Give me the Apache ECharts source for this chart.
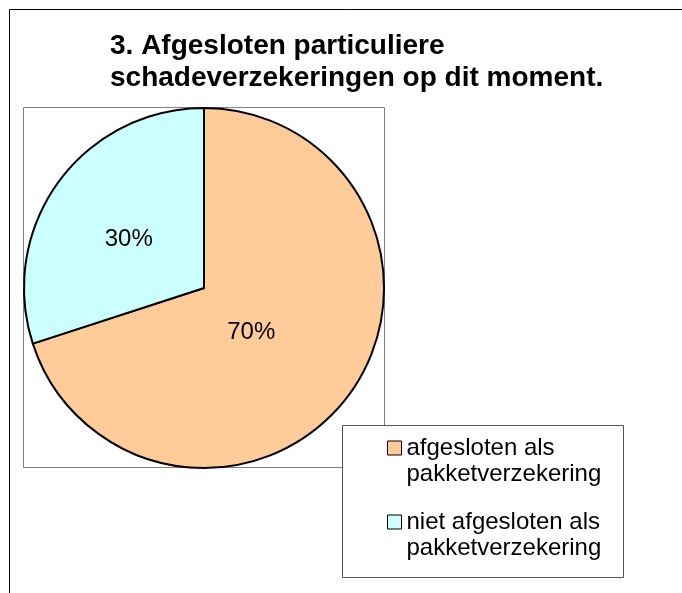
<!DOCTYPE html>
<html>
<head>
<meta charset="utf-8">
<script src="https://cdn.jsdelivr.net/npm/echarts@6/dist/echarts.min.js"></script>
<style>
    html, body { margin: 0; padding: 0; background: #fff; }
    #main { width: 682px; height: 593px; }
</style>
</head>
<body>
<div id="main"></div>
<script>
var titleText = '3. Afgesloten particuliere\nschadeverzekeringen op dit moment.';
var categories = ['afgesloten als\npakketverzekering', 'niet afgesloten als\npakketverzekering'];
var values = [70, 30];
var colors = ['#FFCC99', '#CCFFFF'];

var myChart = echarts.init(document.getElementById('main'));

// per-slice label templates (nudged toward the spot Excel uses)
var labelFormats = ['{v|{d}%}\n{g70|}', '{g30|}\n{v|{d}%}'];

var option = {
    backgroundColor: '#fff',
    animation: false,
    title: {
        text: titleText,
        left: 110,
        top: 30,
        padding: 0,
        textStyle: {
            fontFamily: 'Liberation Sans, Arial',
            fontSize: 28,
            fontWeight: 'bold',
            lineHeight: 32,
            color: '#000'
        }
    },
    graphic: [
        // outer chart frame
        {
            type: 'rect',
            shape: { x: 9.5, y: 9.5, width: 700, height: 620 },
            style: { fill: 'none', stroke: '#000', lineWidth: 1 },
            silent: true
        },
        // plot area
        {
            type: 'rect',
            shape: { x: 23.5, y: 107.5, width: 361, height: 360 },
            style: { fill: 'none', stroke: '#808080', lineWidth: 1 },
            silent: true,
            z: -1
        },
        // legend box
        {
            type: 'rect',
            shape: { x: 342.5, y: 425.5, width: 281, height: 152 },
            style: { fill: '#fff', stroke: '#555', lineWidth: 1 },
            silent: true,
            z: 10
        }
    ],
    legend: {
        orient: 'vertical',
        left: 387,
        top: 409,
        padding: 0,
        itemWidth: 14,
        itemHeight: 14,
        itemGap: -4,
        icon: 'rect',
        z: 20,
        itemStyle: {
            borderColor: '#000',
            borderWidth: 1
        },
        // blank first line keeps the icon beside the first text line
        formatter: function (name) {
            return ' \n' + name;
        },
        textStyle: {
            fontFamily: 'Liberation Sans, Arial',
            fontSize: 24,
            lineHeight: 26,
            color: '#000'
        },
        data: categories
    },
    series: [{
        type: 'pie',
        center: [204, 288],
        radius: 180,
        startAngle: 90,
        clockwise: true,
        z: 2,
        itemStyle: {
            borderColor: '#000',
            borderWidth: 2
        },
        label: {
            show: true,
            position: 'inside',
            color: '#000',
            rich: {
                v: { fontFamily: 'Liberation Sans, Arial', fontSize: 24, lineHeight: 24, color: '#000' },
                g70: { height: 20, lineHeight: 20 },
                g30: { height: 12, lineHeight: 12 }
            }
        },
        emphasis: { disabled: true },
        data: categories.map(function (name, i) {
            var item = {
                name: name,
                value: values[i],
                itemStyle: { color: colors[i] },
                label: { formatter: labelFormats[i] }
            };
            if (i === 0) {
                item.label.padding = [0, 56, 0, 0];
            }
            return item;
        })
    }]
};

myChart.setOption(option);
window.addEventListener('resize', function () {
    myChart.resize();
});
</script>
</body>
</html>
